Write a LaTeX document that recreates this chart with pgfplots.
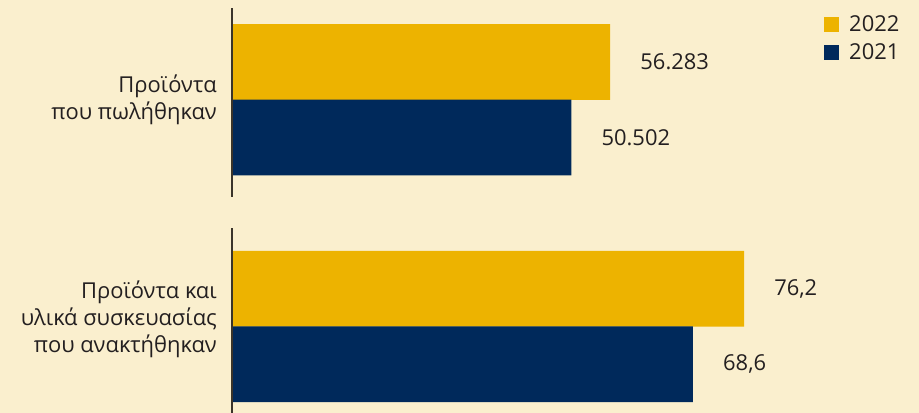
\documentclass[border=0pt]{standalone}
\usepackage{pgfplots}
\pgfplotsset{compat=1.18}
\usepackage{fontspec}
\setmainfont{Open Sans}
\definecolor{bg}{HTML}{FAEFCE}
\definecolor{gold}{HTML}{EDB300}
\definecolor{navy}{HTML}{00295B}
\definecolor{txt}{HTML}{231F20}
\definecolor{axl}{HTML}{3A342A}
\begin{document}
\begin{tikzpicture}
\fill[bg] (0,0) rectangle (919bp,-413bp);
\begin{axis}[
  at={(232bp,-99.75bp)}, anchor=origin,
  x=6.72bp, y=226.75bp, y dir=reverse,
  xbar, bar width=0.335,
  xmin=0, xmax=100, ymin=-0.4, ymax=1.38,
  clip=false,
  hide x axis,
  axis line style={draw=none},
  tick style={draw=none},
  major tick length=0pt,
  ytick={0,0.968},
  yticklabels={{Προϊόντα\\που πωλήθηκαν},{Προϊόντα και\\υλικά συσκευασίας\\που ανακτήθηκαν}},
  yticklabel style={align=right, inner sep=0pt, xshift=-15bp, text=txt,
    font=\fontsize{22}{26.8}\selectfont},
  point meta=explicit symbolic,
  nodes near coords={\pgfplotspointmeta},
  every node near coord/.append style={anchor=west, xshift=30bp, inner sep=0pt,
    text=txt, font=\fontsize{22}{26}\selectfont},
  legend style={at={(axis cs:88.1,-0.37)}, anchor=north west, draw=none, fill=none,
    font=\fontsize{22}{26}\selectfont, text=txt, row sep=10bp, inner sep=0pt,
    nodes={inner sep=0pt},
    /tikz/every odd column/.append style={column sep=10bp}},
  legend cell align=left,
  legend image code/.code={\fill[#1] (0bp,-7.5bp) rectangle (15bp,7.5bp);},
]
\addplot[fill=gold, draw=none, bar shift=-0.1665] coordinates {(56.283,0) [56.283] (76.2,1) [76,2]};
\addlegendentry{2022}
\addplot[fill=navy, draw=none, bar shift=0.1665] coordinates {(50.502,0) [50.502] (68.6,1) [68,6]};
\addlegendentry{2021}
\draw[axl, line width=1.6bp] (axis cs:0,-0.4046) -- (axis cs:0,0.4289);
\draw[axl, line width=1.6bp] (axis cs:0,0.5656) -- (axis cs:0,1.3814);
\end{axis}
\pgfresetboundingbox
\useasboundingbox (0,0) rectangle (919bp,-413bp);
\end{tikzpicture}
\end{document}
